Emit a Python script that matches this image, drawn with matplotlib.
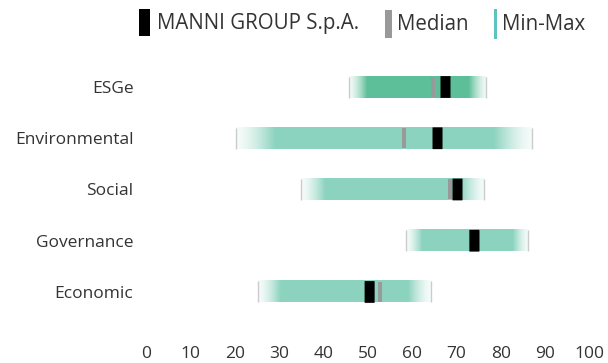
import numpy as np
import matplotlib
matplotlib.use("Agg")
import matplotlib.pyplot as plt
from matplotlib.colors import to_rgb
from matplotlib.patches import FancyBboxPatch, Rectangle

# ====== 資料 ======
CATEGORIES = ["ESGe", "Environmental", "Social", "Governance", "Economic"]
MIN_VALUES = [45.8, 20.3, 34.9, 58.5, 25.3]
MAX_VALUES = [76.7, 87.0, 76.2, 86.1, 64.2]
MEDIAN_VALUES = [64.7, 58.1, 68.5, 74.8, 52.7]
COMPANY_VALUES = [67.5, 65.7, 70.2, 74.0, 50.4]
X_TICKS = [0, 10, 20, 30, 40, 50, 60, 70, 80, 90, 100]

COMPANY_NAME = "MANNI GROUP S.p.A."

# ====== 樣式 ======
TEXT_COLOR = "#333333"
BAR_COLORS = ["#5dbf99", "#8cd3bf", "#8cd3bf", "#8cd3bf", "#8cd3bf"]
MEDIAN_COLOR = "#999999"
EDGE_COLOR = "#cccccc"
LEGEND_LINE_COLOR = "#5cc3c0"
BAR_HEIGHT = 0.41
MARK_HEIGHT = 0.47
FADE = 0.13

plt.rcParams['font.family'] = ['Open Sans', 'DejaVu Sans']


def gradient_image(color, n=300):
    """左右兩端淡出的色帶"""
    t = np.linspace(0, 1, n)
    edge = np.minimum(t, 1 - t) / FADE
    alpha = 0.08 + 0.92 * np.clip(edge, 0, 1) ** 1.5
    rgba = np.zeros((1, n, 4))
    rgba[0, :, :3] = to_rgb(color)
    rgba[0, :, 3] = alpha
    return rgba


def plot_range_chart():
    fig = plt.figure(figsize=(6.08, 3.63), dpi=100)
    ax = fig.add_axes([0.240, 0.111, 0.730, 0.734])

    for i, cat in enumerate(CATEGORIES):
        lo, hi = MIN_VALUES[i], MAX_VALUES[i]
        y0, y1 = i - BAR_HEIGHT / 2, i + BAR_HEIGHT / 2
        ax.imshow(gradient_image(BAR_COLORS[i]), extent=[lo, hi, y1, y0],
                  aspect='auto', interpolation='bilinear', zorder=1)
        ax.vlines([lo, hi], y0, y1, color=EDGE_COLOR, linewidth=1, zorder=2)
        # 中位數
        ax.add_patch(Rectangle((MEDIAN_VALUES[i] - 0.45, y0 + 0.01), 0.9, BAR_HEIGHT - 0.02,
                               facecolor=MEDIAN_COLOR, edgecolor='none', zorder=3))
        # 公司分數
        ax.add_patch(FancyBboxPatch((COMPANY_VALUES[i] - 1.1, i - MARK_HEIGHT / 2 + 0.03),
                                    2.2, MARK_HEIGHT - 0.06,
                                    boxstyle="round,pad=0.03,rounding_size=0.05",
                                    mutation_aspect=0.25,
                                    facecolor="black", edgecolor='none', zorder=4))

    ax.set_xlim(0, 100)
    ax.set_ylim(4.6, -0.6)
    ax.set_xticks(X_TICKS)
    ax.set_yticks(range(len(CATEGORIES)))
    ax.set_yticklabels(CATEGORIES)
    ax.tick_params(axis='both', length=0, labelsize=12.5, colors=TEXT_COLOR)
    ax.tick_params(axis='x', pad=17)
    ax.tick_params(axis='y', pad=9)
    for spine in ax.spines.values():
        spine.set_visible(False)

    # ====== 圖例 ======
    W, H = 608, 363

    def fig_rect(x0, x1, y0, y1, color):
        fig.add_artist(Rectangle((x0 / W, 1 - y1 / H), (x1 - x0) / W, (y1 - y0) / H,
                                 facecolor=color, edgecolor='none', transform=fig.transFigure))

    fig_rect(139, 150, 9, 36, "black")
    fig_rect(385, 392, 10, 38, MEDIAN_COLOR)
    fig_rect(494, 497, 9, 39, LEGEND_LINE_COLOR)
    for x, label in [(157, COMPANY_NAME), (397, "Median"), (502, "Min-Max")]:
        fig.text(x / W, 1 - 24 / H, label, fontsize=14.8, color=TEXT_COLOR, va='center', ha='left')

    fig.savefig("out.png", dpi=100)


if __name__ == "__main__":
    plot_range_chart()
